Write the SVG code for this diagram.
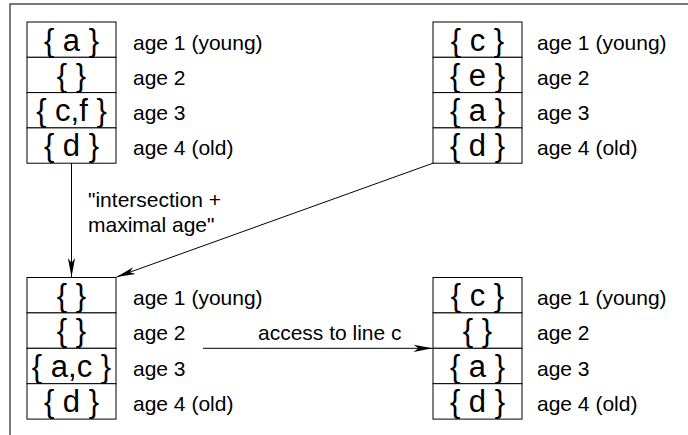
<svg xmlns="http://www.w3.org/2000/svg" width="688" height="435" viewBox="0 0 688 435">
  <style>
    .cell { fill: #ffffff; stroke: #000000; stroke-width: 1; }
    .set { font-family: "Liberation Sans", Arial, sans-serif; font-size: 31px; fill: #000000; text-anchor: middle; }
    .lbl { font-family: "Liberation Sans", Arial, sans-serif; font-size: 21px; fill: #000000; }
    .edge { fill: none; stroke: #000000; stroke-width: 1; }
  </style>
  <defs>
    <marker id="head" markerUnits="userSpaceOnUse" viewBox="-20 -5 21 10" refX="0" refY="0" markerWidth="21" markerHeight="10" orient="auto">
      <path d="M0,0 L-19,-3.6 L-14,0 L-19,3.6 Z" fill="#000000"/>
    </marker>
  </defs>

  <rect x="0" y="0" width="688" height="435" fill="#ffffff"/>
  <!-- outer frame -->
  <rect x="10" y="4" width="700" height="460" fill="none" stroke="#333333" stroke-width="1.3"/>

  <!-- cache set A (top left) -->
  <g id="setA">
    <rect class="cell" x="27" y="22" width="89" height="35.3"/>
    <rect class="cell" x="27" y="57.3" width="89" height="35.3"/>
    <rect class="cell" x="27" y="92.6" width="89" height="35.3"/>
    <rect class="cell" x="27" y="127.9" width="89" height="35.3"/>
    <text class="set" x="71.5" y="50.5">{ a }</text>
    <text class="set" x="71.5" y="85.8">{ }</text>
    <text class="set" x="71.5" y="121.1">{ c,f }</text>
    <text class="set" x="71.5" y="156.4">{ d }</text>
    <text class="lbl" x="133" y="49.5">age 1 (young)</text>
    <text class="lbl" x="133" y="84.8">age 2</text>
    <text class="lbl" x="133" y="120.1">age 3</text>
    <text class="lbl" x="133" y="155.4">age 4 (old)</text>
  </g>

  <!-- cache set B (top right) -->
  <g id="setB">
    <rect class="cell" x="433" y="22" width="89" height="35.3"/>
    <rect class="cell" x="433" y="57.3" width="89" height="35.3"/>
    <rect class="cell" x="433" y="92.6" width="89" height="35.3"/>
    <rect class="cell" x="433" y="127.9" width="89" height="35.3"/>
    <text class="set" x="477.5" y="50.5">{ c }</text>
    <text class="set" x="477.5" y="85.8">{ e }</text>
    <text class="set" x="477.5" y="121.1">{ a }</text>
    <text class="set" x="477.5" y="156.4">{ d }</text>
    <text class="lbl" x="537" y="49.5">age 1 (young)</text>
    <text class="lbl" x="537" y="84.8">age 2</text>
    <text class="lbl" x="537" y="120.1">age 3</text>
    <text class="lbl" x="537" y="155.4">age 4 (old)</text>
  </g>

  <!-- joined set (bottom left) -->
  <g id="setJoin">
    <rect class="cell" x="27" y="277.5" width="89" height="35.4"/>
    <rect class="cell" x="27" y="312.9" width="89" height="35.4"/>
    <rect class="cell" x="27" y="348.3" width="89" height="35.4"/>
    <rect class="cell" x="27" y="383.7" width="89" height="35.4"/>
    <text class="set" x="71.5" y="306">{ }</text>
    <text class="set" x="71.5" y="341.4">{ }</text>
    <text class="set" x="71.5" y="376.8">{ a,c }</text>
    <text class="set" x="71.5" y="412.2">{ d }</text>
    <text class="lbl" x="133" y="305">age 1 (young)</text>
    <text class="lbl" x="133" y="340.4">age 2</text>
    <text class="lbl" x="133" y="375.8">age 3</text>
    <text class="lbl" x="133" y="411.2">age 4 (old)</text>
  </g>

  <!-- set after access (bottom right) -->
  <g id="setAccess">
    <rect class="cell" x="433" y="277.5" width="89" height="35.4"/>
    <rect class="cell" x="433" y="312.9" width="89" height="35.4"/>
    <rect class="cell" x="433" y="348.3" width="89" height="35.4"/>
    <rect class="cell" x="433" y="383.7" width="89" height="35.4"/>
    <text class="set" x="477.5" y="306">{ c }</text>
    <text class="set" x="477.5" y="341.4">{ }</text>
    <text class="set" x="477.5" y="376.8">{ a }</text>
    <text class="set" x="477.5" y="412.2">{ d }</text>
    <text class="lbl" x="537" y="305">age 1 (young)</text>
    <text class="lbl" x="537" y="340.4">age 2</text>
    <text class="lbl" x="537" y="375.8">age 3</text>
    <text class="lbl" x="537" y="411.2">age 4 (old)</text>
  </g>

  <!-- connectors -->
  <g id="connectors">
    <line class="edge" x1="71.5" y1="163.2" x2="71.5" y2="277" marker-end="url(#head)"/>
    <line class="edge" x1="433" y1="163.2" x2="116.5" y2="277" marker-end="url(#head)"/>
    <line class="edge" x1="203" y1="348.3" x2="432.5" y2="348.3" marker-end="url(#head)"/>
    <text class="lbl" x="88" y="207">"intersection +</text>
    <text class="lbl" x="88" y="232">maximal age"</text>
    <text class="lbl" x="258" y="340">access to line c</text>
  </g>
</svg>
